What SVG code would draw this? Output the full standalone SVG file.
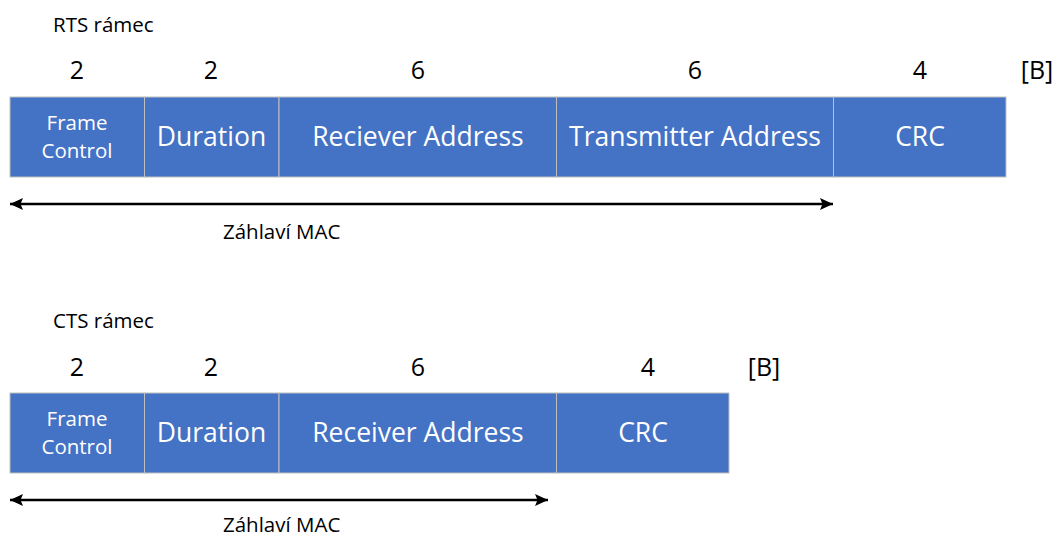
<svg xmlns="http://www.w3.org/2000/svg" width="1057" height="537" viewBox="0 0 1057 537">
<style>
.cell{fill:#4472C4;stroke:#BFBFBF;stroke-width:1}
.lbl{font-family:"Open Sans","Liberation Sans",sans-serif;fill:#FFFFFF;text-anchor:middle}
.big{font-size:26.5px}
.small{font-size:20.5px}
.num{font-family:"Open Sans","Liberation Sans",sans-serif;font-size:25px;fill:#000;text-anchor:middle}
.cap{font-family:"Open Sans","Liberation Sans",sans-serif;font-size:20.5px;fill:#000}
.arr{stroke:#000;stroke-width:2.5;fill:none;marker-start:url(#head);marker-end:url(#head)}
</style>
<defs>
<marker id="head" viewBox="0 0 13 12" refX="13" refY="6" markerWidth="13" markerHeight="12" markerUnits="userSpaceOnUse" orient="auto-start-reverse">
<path d="M0,0 L13,6 L0,12 L2.5,6 Z" fill="#000"/>
</marker>
</defs>

<g id="rts-title"><text class="cap" x="53" y="32">RTS rámec</text></g>
<g id="rts-sizes">
<text class="num" x="77" y="79">2</text>
<text class="num" x="211" y="79">2</text>
<text class="num" x="418" y="79">6</text>
<text class="num" x="695" y="79">6</text>
<text class="num" x="920" y="79">4</text>
<text class="num" x="1037" y="79">[B]</text>
</g>
<g id="rts-fc"><rect class="cell" x="10" y="97" width="134.5" height="80"/>
<text class="lbl small" x="77" y="130">Frame</text><text class="lbl small" x="77" y="158">Control</text></g>
<g id="rts-dur"><rect class="cell" x="144.5" y="97" width="134.5" height="80"/>
<text class="lbl big" x="211.5" y="146">Duration</text></g>
<g id="rts-ra"><rect class="cell" x="279" y="97" width="277.5" height="80"/>
<text class="lbl big" x="418" y="146">Reciever Address</text></g>
<g id="rts-ta"><rect class="cell" x="556.5" y="97" width="277" height="80"/>
<text class="lbl big" x="695" y="146">Transmitter Address</text></g>
<g id="rts-crc"><rect class="cell" x="833.5" y="97" width="172.5" height="80"/>
<text class="lbl big" x="920" y="146">CRC</text></g>
<g id="rts-mac"><text class="cap" x="223" y="239">Záhlaví MAC</text></g>

<g id="cts-title"><text class="cap" x="53" y="328">CTS rámec</text></g>
<g id="cts-sizes">
<text class="num" x="77" y="376">2</text>
<text class="num" x="211" y="376">2</text>
<text class="num" x="418" y="376">6</text>
<text class="num" x="648" y="376">4</text>
<text class="num" x="764" y="376">[B]</text>
</g>
<g id="cts-fc"><rect class="cell" x="10" y="393" width="134.5" height="80"/>
<text class="lbl small" x="77" y="426">Frame</text><text class="lbl small" x="77" y="454">Control</text></g>
<g id="cts-dur"><rect class="cell" x="144.5" y="393" width="134.5" height="80"/>
<text class="lbl big" x="211.5" y="442">Duration</text></g>
<g id="cts-ra"><rect class="cell" x="279" y="393" width="277.5" height="80"/>
<text class="lbl big" x="418" y="442">Receiver Address</text></g>
<g id="cts-crc"><rect class="cell" x="556.5" y="393" width="172.5" height="80"/>
<text class="lbl big" x="643" y="442">CRC</text></g>
<g id="cts-mac"><text class="cap" x="223" y="532">Záhlaví MAC</text></g>

<g id="connectors">
<line class="arr" x1="10" y1="204" x2="833" y2="204"/>
<line class="arr" x1="10" y1="500" x2="548" y2="500"/>
</g>
</svg>
